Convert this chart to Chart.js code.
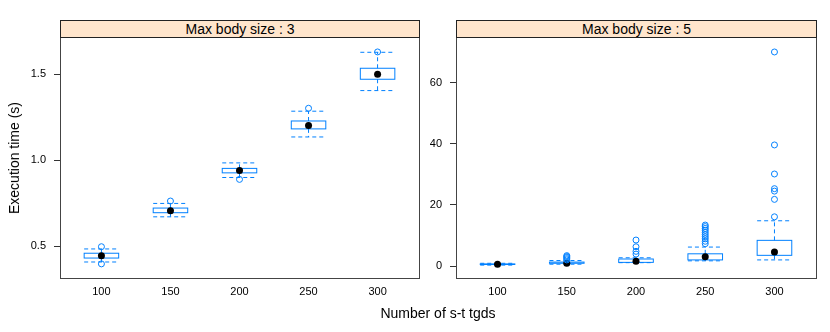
<!DOCTYPE html>
<html>
<head>
<meta charset="utf-8">
<script src="https://cdn.jsdelivr.net/npm/chart.js@4/dist/chart.umd.min.js"></script>
<style>
  body { margin: 0; background: #fff; font-family: "Liberation Sans", Arial, sans-serif; }
  #wrap { position: relative; width: 830px; height: 332px; overflow: hidden; }
  .panel { position: absolute; top: 17px; height: 315px; }
  .strip { position: absolute; top: 20px; height: 18px; box-sizing: border-box; background: #ffe5cc;
           border: 1px solid #222; text-align: center; font-size: 14px; line-height: 16px; color: #000; z-index: 2; }
  #ytitle { position: absolute; left: 14px; top: 158px; transform: translate(-50%, -50%) rotate(-90deg);
            font-size: 14px; white-space: nowrap; }
  #xtitle { position: absolute; left: 438px; top: 313px; transform: translate(-50%, -50%);
            font-size: 14px; white-space: nowrap; }
</style>
</head>
<body>
<div id="wrap">
  <div class="panel" style="left:0;width:440px;"><canvas id="c1"></canvas></div>
  <div class="panel" style="left:400px;width:430px;"><canvas id="c2"></canvas></div>
  <div class="strip" id="strip1" style="left:60px;width:360px;"></div>
  <div class="strip" id="strip2" style="left:456px;width:361px;"></div>
  <div id="ytitle">Execution time (s)</div>
  <div id="xtitle">Number of s-t tgds</div>
</div>
<script>
// DATA
const categories = ['100', '150', '200', '250', '300'];
const panelTitles = ['Max body size : 3', 'Max body size : 5'];

// max body size 3
const low3 = [0.407, 0.670, 0.899, 1.135, 1.405];
const q1_3 = [0.430, 0.694, 0.926, 1.182, 1.471];
const med3 = [0.444, 0.705, 0.940, 1.201, 1.500];
const q3_3 = [0.458, 0.721, 0.952, 1.228, 1.535];
const high3 = [0.483, 0.748, 0.984, 1.285, 1.628];
const out3 = [[0.496, 0.396], [0.762], [0.888], [1.302], [1.63]];
const yTicks3 = [0.5, 1.0, 1.5];

// max body size 5
const low5 = [0.3, 0.6, 1.1, 1.7, 2.0];
const q1_5 = [0.5, 0.9, 1.2, 2.0, 3.5];
const med5 = [0.6, 0.9, 1.6, 3.0, 4.6];
const q3_5 = [0.7, 1.3, 2.3, 4.0, 8.4];
const high5 = [0.9, 1.8, 2.7, 6.2, 14.8];
const out5 = [
  [],
  [2.0, 2.4, 2.8, 3.1, 3.4],
  [3.9, 4.8, 6.3, 8.5],
  [7.3, 8.1, 8.9, 9.6, 10.3, 11.0, 11.7, 12.3, 12.9, 13.4],
  [16.1, 21.8, 24.5, 25.3, 30.1, 39.6, 70.0]
];
const yTicks5 = [0, 20, 40, 60];

const BLUE = '#0080ff';

// BOX + WHISKERS
const boxPlugin = {
  id: 'boxes',
  beforeDatasetsDraw(chart, args, opts) {
    const { ctx, scales: { x, y } } = chart;
    const half = x.getPixelForValue(1.25) - x.getPixelForValue(1);
    ctx.save();
    ctx.strokeStyle = BLUE;
    ctx.lineWidth = 1;
    opts.med.forEach((m, i) => {
      const cx = x.getPixelForValue(i + 1);
      const yq1 = y.getPixelForValue(opts.q1[i]);
      const yq3 = y.getPixelForValue(opts.q3[i]);
      const ylo = y.getPixelForValue(opts.low[i]);
      const yhi = y.getPixelForValue(opts.high[i]);
      ctx.setLineDash([]);
      ctx.strokeRect(cx - half, yq3, half * 2, yq1 - yq3);
      ctx.setLineDash([4, 3]);
      ctx.beginPath();
      ctx.moveTo(cx, yq3); ctx.lineTo(cx, yhi);
      ctx.moveTo(cx, yq1); ctx.lineTo(cx, ylo);
      ctx.moveTo(cx - half, yhi); ctx.lineTo(cx + half, yhi);
      ctx.moveTo(cx - half, ylo); ctx.lineTo(cx + half, ylo);
      ctx.stroke();
    });
    ctx.restore();
  },
  afterDraw(chart) {
    const { ctx, chartArea: a } = chart;
    ctx.save();
    ctx.strokeStyle = '#444';
    ctx.lineWidth = 1;
    ctx.strokeRect(Math.round(a.left) + 0.5, Math.round(a.top) - 0.5, Math.round(a.width), Math.round(a.height));
    ctx.restore();
  }
};

function makePanel(id, low, q1, med, q3, high, outs, yTicks, yMin, yMax, yWidth, padRight, fmt) {
  const outPts = [];
  outs.forEach((list, i) => list.forEach(v => outPts.push({ x: i + 1, y: v })));
  return new Chart(document.getElementById(id), {
    type: 'scatter',
    data: {
      datasets: [
        { data: outPts, pointRadius: 3, pointBorderWidth: 1, borderColor: BLUE, backgroundColor: 'rgba(0,0,0,0)' },
        { data: med.map((v, i) => ({ x: i + 1, y: v })), pointRadius: 3.5, pointBorderWidth: 0,
          borderColor: '#000', backgroundColor: '#000' }
      ]
    },
    options: {
      animation: false,
      responsive: true,
      maintainAspectRatio: false,
      layout: { autoPadding: false, padding: { left: 0, right: padRight, top: 20, bottom: 0 } },
      plugins: {
        legend: { display: false },
        tooltip: { enabled: false },
        boxes: { low, q1, med, q3, high }
      },
      scales: {
        x: {
          type: 'linear', min: 0.4, max: 5.6,
          afterBuildTicks: s => { s.ticks = categories.map((c, i) => ({ value: i + 1 })); },
          afterFit: s => { s.height = 53; },
          grid: { display: false, drawTicks: false },
          border: { display: false },
          ticks: { padding: 6, color: '#000', font: { size: 11, family: 'Liberation Sans' },
                   maxRotation: 0, callback: v => categories[v - 1] }
        },
        y: {
          min: yMin, max: yMax,
          afterBuildTicks: s => { s.ticks = yTicks.map(v => ({ value: v })); },
          afterFit: s => { s.width = yWidth; },
          grid: { display: true, drawOnChartArea: false, drawTicks: true, tickLength: 6, color: '#333' },
          border: { display: false },
          ticks: { padding: 8, color: '#000', font: { size: 11, family: 'Liberation Sans' }, callback: fmt }
        }
      }
    },
    plugins: [boxPlugin]
  });
}

document.getElementById('strip1').textContent = panelTitles[0];
document.getElementById('strip2').textContent = panelTitles[1];

makePanel('c1', low3, q1_3, med3, q3_3, high3, out3, yTicks3, 0.308, 1.717, 60, 21, v => v.toFixed(1));
makePanel('c2', low5, q1_5, med5, q3_5, high5, out5, yTicks5, -4.24, 74.9, 56, 14, v => String(v));
</script>
</body>
</html>
